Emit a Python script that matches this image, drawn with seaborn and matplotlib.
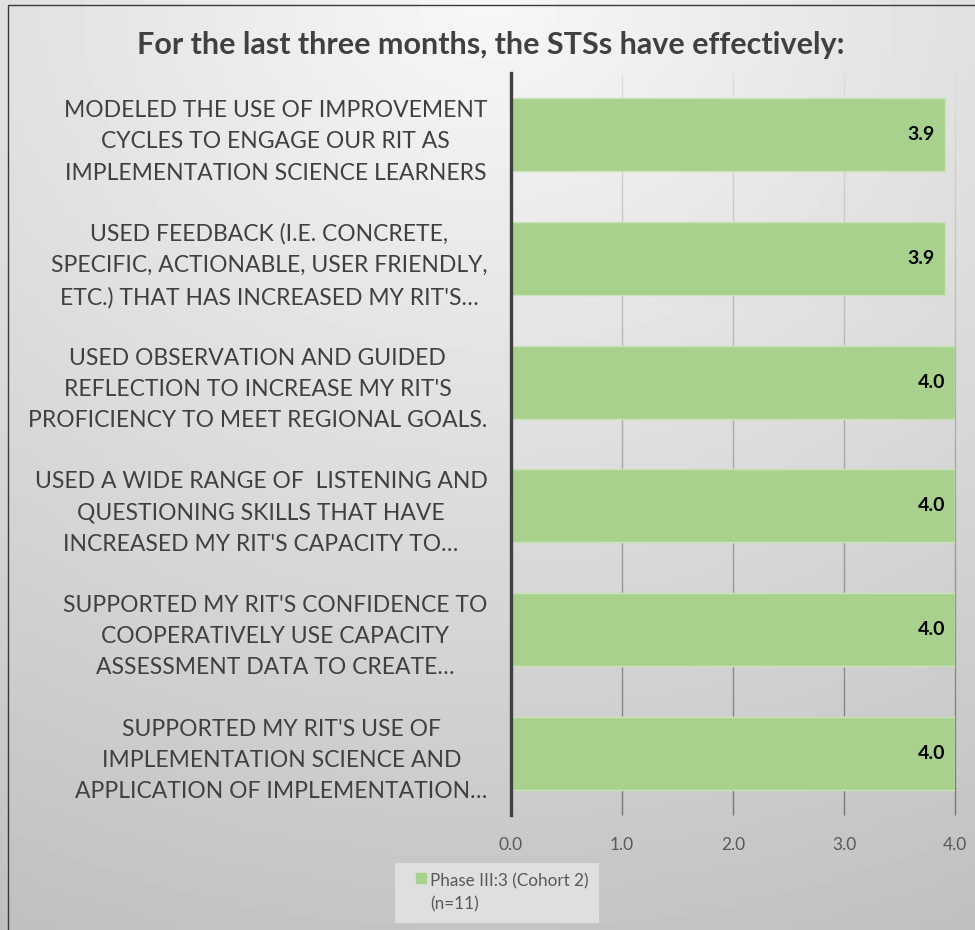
import numpy as np
import pandas as pd
import matplotlib
matplotlib.use("Agg")
import matplotlib.pyplot as plt
import seaborn as sns
from matplotlib.patches import Rectangle
from matplotlib.collections import LineCollection
from matplotlib.legend_handler import HandlerPatch
from matplotlib.colors import LinearSegmentedColormap

# -----------------------------
# DATA
# -----------------------------
items = [
    "MODELED THE USE OF IMPROVEMENT\nCYCLES TO ENGAGE OUR RIT AS\nIMPLEMENTATION SCIENCE LEARNERS",
    "USED FEEDBACK (I.E. CONCRETE,\nSPECIFIC, ACTIONABLE, USER FRIENDLY,\nETC.) THAT HAS INCREASED MY RIT'S\u2026",
    "USED OBSERVATION AND GUIDED\nREFLECTION TO INCREASE MY RIT'S\nPROFICIENCY TO MEET REGIONAL GOALS.",
    "USED A WIDE RANGE OF  LISTENING AND\nQUESTIONING SKILLS THAT HAVE\nINCREASED MY RIT'S CAPACITY TO\u2026",
    "SUPPORTED MY RIT'S CONFIDENCE TO\nCOOPERATIVELY USE CAPACITY\nASSESSMENT DATA TO CREATE\u2026",
    "SUPPORTED MY RIT'S USE OF\nIMPLEMENTATION SCIENCE AND\nAPPLICATION OF IMPLEMENTATION\u2026",
]
scores = [3.91, 3.91, 4.0, 4.0, 4.0, 4.0]
series_name = "Phase III:3 (Cohort 2)\n(n=11)"
x_ticks = [0.0, 1.0, 2.0, 3.0, 4.0]

df = pd.DataFrame({"Item": items, "Score": scores, "Series": series_name})

# -----------------------------
# STYLE
# -----------------------------
sns.set_style("white")
plt.rcParams["font.family"] = ["Lato", "DejaVu Sans"]

green = "#a9d18e"
text_gray = "#404040"

fig = plt.figure(figsize=(9.75, 9.3), dpi=100)

# background gradient (light at top, grey at bottom)
bg = fig.add_axes([0, 0, 1, 1], zorder=-10)
yy, xx = np.mgrid[0:1:200j, 0:1:200j]
r = np.sqrt(((xx - 0.5) * 0.9) ** 2 + (yy * 1.0) ** 2)
shade = 0.97 - 0.2 * r
bg.imshow(shade, cmap="gray", vmin=0, vmax=1, extent=[0, 1, 0, 1],
          aspect="auto", origin="upper")
bg.set_axis_off()
fig.patches.append(Rectangle((8 / 975, -0.01), 1.0, (925 / 930) + 0.01,
                             transform=fig.transFigure, fill=False,
                             edgecolor="#3a3a3a", linewidth=1.0))

ax = fig.add_axes([511 / 975, 1 - 815 / 930, (955 - 511) / 975, (815 - 73) / 930])
ax.patch.set_alpha(0)

sns.barplot(data=df, y="Item", x="Score", hue="Series", orient="h",
            palette=[green], saturation=1, width=0.59,
            edgecolor="#c9e3b8", linewidth=1, ax=ax, legend=True)

ax.set_xlim(0, 4.0)
ax.set_xticks(x_ticks)
ax.set_xticklabels([f"{t:.1f}" for t in x_ticks])
ax.set_xlabel("")
ax.set_ylabel("")

# gridlines fading from light (top) to darker grey (bottom)
ylo, yhi = ax.get_ylim()
grid_cmap = LinearSegmentedColormap.from_list("g", ["#dcdcdc", "#777777"])
nseg = 60
ys = np.linspace(yhi, ylo, nseg + 1)
for t in x_ticks[1:]:
    segs = [[(t, ys[i]), (t, ys[i + 1])] for i in range(nseg)]
    lc = LineCollection(segs, colors=grid_cmap(np.linspace(0, 1, nseg)),
                        linewidths=1.0, zorder=0.5, clip_on=False)
    ax.add_collection(lc)
ax.set_ylim(ylo, yhi)

for side in ["top", "right", "bottom"]:
    ax.spines[side].set_visible(False)
ax.spines["left"].set_color(text_gray)
ax.spines["left"].set_linewidth(2.4)
ax.spines["left"].set_zorder(3)

ax.tick_params(axis="y", length=0, pad=17, labelsize=16.5, labelcolor=text_gray)
ax.tick_params(axis="x", length=0, pad=16, labelsize=12.5, labelcolor="#595959")
for lab in ax.get_yticklabels():
    lab.set_multialignment("center")
    lab.set_linespacing(1.6)

# value labels inside bar ends
for bar in ax.patches:
    w = bar.get_width()
    if w > 0:
        ax.text(w - 0.09, bar.get_y() + bar.get_height() / 2, f"{w:.1f}",
                ha="right", va="center", fontsize=14, fontweight="bold",
                color="black", zorder=4)


# legend square sits on the first text line
def top_square(legend, orig_handle, xdescent, ydescent, width, height, fontsize):
    s = 0.55 * fontsize
    return Rectangle((width - s, height - s * 1.75), s, s)


ax.get_legend().remove()
handles = [Rectangle((0, 0), 1, 1, color=green)]
leg = fig.legend(handles, [series_name], loc="center",
                 bbox_to_anchor=(497 / 975, 1 - 893 / 930),
                 frameon=True, fancybox=False, fontsize=12.3,
                 handlelength=1.2, handleheight=2.6, handletextpad=0.25,
                 borderpad=0.6, borderaxespad=0, labelcolor="#595959",
                 handler_map={Rectangle: HandlerPatch(patch_func=top_square)})
for txt in leg.get_texts():
    txt.set_linespacing(1.5)
leg.get_frame().set_facecolor("#e6e6e6")
leg.get_frame().set_edgecolor("none")
leg.get_frame().set_alpha(0.8)

fig.text(491 / 975, 1 - 45 / 930,
         "For the last three months, the STSs have effectively:",
         ha="center", va="center", fontsize=22, fontweight="bold",
         color=text_gray)

fig.savefig("out.png", dpi=100)
